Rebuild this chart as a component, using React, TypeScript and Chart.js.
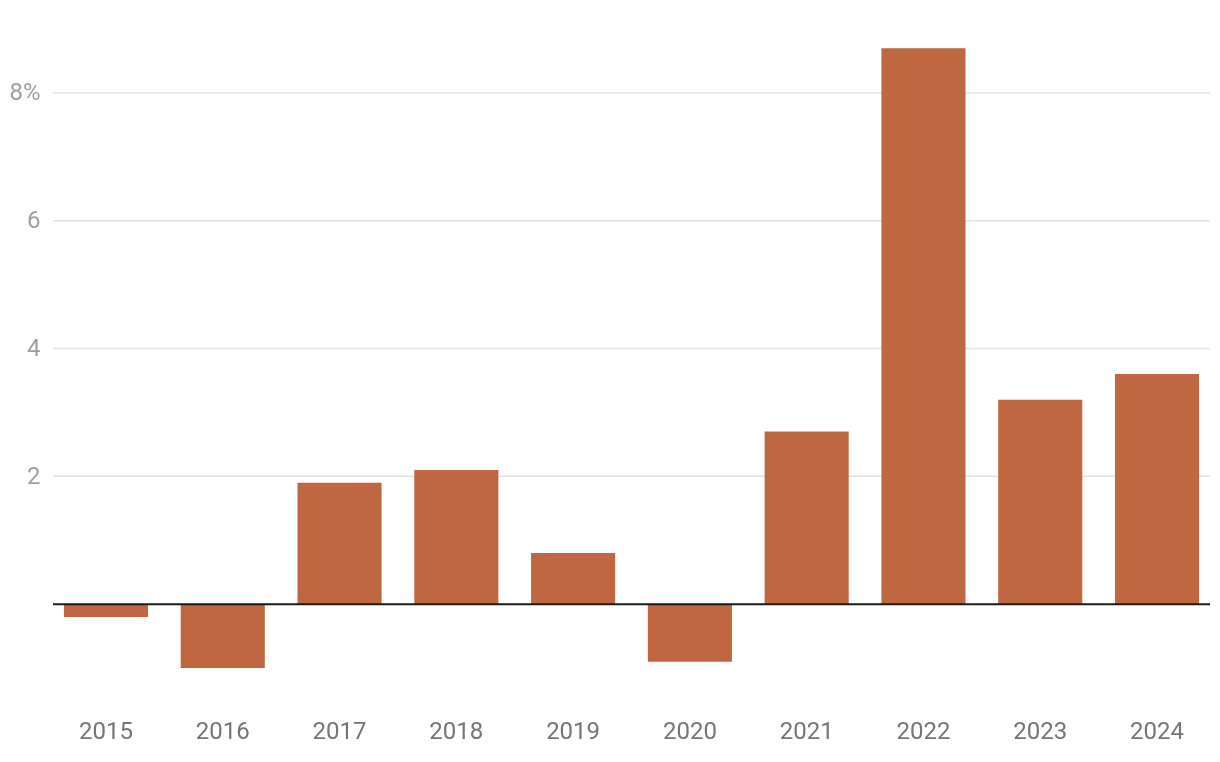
import React, { useEffect, useRef } from 'react';
import { Chart, registerables } from 'chart.js';

Chart.register(...registerables);

const YEARS = ['2015', '2016', '2017', '2018', '2019', '2020', '2021', '2022', '2023', '2024'];
const VALUES = [-0.2, -1.0, 1.9, 2.1, 0.8, -0.9, 2.7, 8.7, 3.2, 3.6];
const Y_TICKS = [0, 2, 4, 6, 8];
const Y_TICK_LABELS = ['', '2', '4', '6', '8%'];

const BAR_COLOR = '#BF6740';
const FONT = 'Roboto, "Noto Sans", sans-serif';

const trimmedGrid = {
  id: 'trimmedGrid',
  beforeDatasetsDraw(chart: any) {
    const { ctx, chartArea, scales } = chart;
    const y = scales.y;
    const inset = 5.4;
    ctx.save();
    ctx.strokeStyle = '#e2e2e2';
    ctx.lineWidth = 1.5;
    Y_TICKS.forEach((v) => {
      if (v === 0) return;
      const py = y.getPixelForValue(v);
      ctx.beginPath();
      ctx.moveTo(chartArea.left + inset, py);
      ctx.lineTo(chartArea.right - inset, py);
      ctx.stroke();
    });
    ctx.restore();
  },
  afterDatasetsDraw(chart: any) {
    const { ctx, chartArea, scales } = chart;
    const y = scales.y;
    const inset = 5.4;
    const py = y.getPixelForValue(0);
    ctx.save();
    ctx.strokeStyle = '#1a1a1a';
    ctx.lineWidth = 2;
    ctx.beginPath();
    ctx.moveTo(chartArea.left + inset, py);
    ctx.lineTo(chartArea.right - inset, py);
    ctx.stroke();
    ctx.restore();
  },
};

export default function App() {
  const canvasRef = useRef<HTMLCanvasElement | null>(null);

  useEffect(() => {
    if (!canvasRef.current) return;
    const chart = new Chart(canvasRef.current, {
      type: 'bar',
      data: {
        labels: YEARS,
        datasets: [
          {
            data: VALUES,
            backgroundColor: BAR_COLOR,
            borderWidth: 0,
            categoryPercentage: 1,
            barPercentage: 0.72,
          },
        ],
      },
      options: {
        animation: false,
        responsive: true,
        maintainAspectRatio: false,
        layout: { padding: { top: 29, right: 4.6, left: 0, bottom: 0 } },
        plugins: {
          legend: { display: false },
          tooltip: { enabled: false },
        },
        scales: {
          x: {
            grid: { display: false, drawTicks: false },
            border: { display: false },
            ticks: {
              color: '#757575',
              font: { family: FONT, size: 24 },
              padding: 19,
              maxRotation: 0,
            },
            afterFit(scale: any) {
              scale.height = 62;
            },
          },
          y: {
            min: -1.5,
            max: 9,
            grid: { display: false, drawTicks: false },
            border: { display: false },
            afterBuildTicks(scale: any) {
              scale.ticks = Y_TICKS.map((v) => ({ value: v }));
            },
            ticks: {
              color: '#9e9e9e',
              font: { family: FONT, size: 24 },
              padding: 7,
              labelOffset: 1.5,
              callback: (value: any) => {
                const i = Y_TICKS.indexOf(Number(value));
                return i >= 0 ? Y_TICK_LABELS[i] : '';
              },
            },
            afterFit(scale: any) {
              scale.width = 47.6;
            },
          },
        },
      },
      plugins: [trimmedGrid],
    });
    return () => chart.destroy();
  }, []);

  return (
    <div style={{ position: 'fixed', left: 0, top: 0, width: 1220, height: 762, background: '#fff' }}>
      <canvas ref={canvasRef} />
    </div>
  );
}
